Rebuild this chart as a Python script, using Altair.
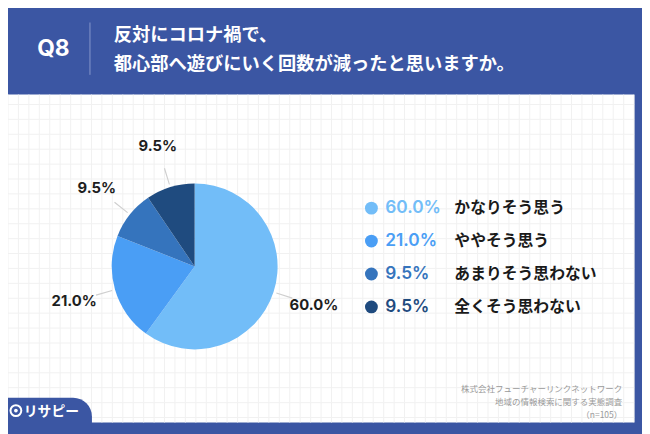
import altair as alt
import pandas as pd

# ---- data ----
labels = ["かなりそう思う", "ややそう思う", "あまりそう思わない", "全くそう思わない"]
values = [60.0, 21.0, 9.5, 9.5]
colors = ["#72bdf8", "#4a9ef5", "#3574bd", "#1f4b7f"]
question = "Q8"
title_lines = ["反対にコロナ禍で、", "都心部へ遊びにいく回数が減ったと思いますか。"]
source_lines = ["株式会社フューチャーリンクネットワーク", "地域の情報検索に関する実態調査", "（n=105）"]
brand = "リサピー"

BLUE = "#3b56a3"
JP = "Noto Sans CJK JP"
LAT = "Inter"
W, H = 642, 426
CX, CY = 189, 259  # pie centre

df = pd.DataFrame({"label": labels, "value": values, "idx": list(range(len(labels)))})
one = pd.DataFrame({"k": [0]})

base = alt.Chart(df).transform_calculate(pct="format(datum.value, '.1f') + '%'")
color = alt.Color("label:N", scale=alt.Scale(domain=labels, range=colors), legend=None)

# ---- card and grid ----
card = alt.Chart(one).mark_rect(color="white").encode(
    x=alt.value(0), x2=alt.value(634), y=alt.value(85), y2=alt.value(417))

vgrid = alt.Chart(alt.sequence(0, 61, as_="i")).mark_rule(color="#f1f1f1", strokeWidth=1).encode(
    x=alt.X("i:Q", scale=alt.Scale(domain=[0, 60], range=[0, 634]), axis=None),
    y=alt.value(85), y2=alt.value(417))

hgrid = alt.Chart(alt.sequence(0, 22, as_="j")).mark_rule(color="#f1f1f1", strokeWidth=1).encode(
    y=alt.Y("j:Q", scale=alt.Scale(domain=[0, 21], range=[95, 412]), axis=None),
    x=alt.value(0), x2=alt.value(634))

# ---- pie ----
pie = base.mark_arc(outerRadius=84).encode(
    theta=alt.Theta("value:Q", stack=True),
    color=color,
    order=alt.Order("idx:Q", sort="ascending"),
    x=alt.value(CX), y=alt.value(CY))

plabels = base.mark_text(radius=127, font=LAT, fontSize=15, fontWeight="bold", color="#1e1e1e").encode(
    theta=alt.Theta("value:Q", stack=True),
    order=alt.Order("idx:Q", sort="ascending"),
    text="pct:N",
    x=alt.value(CX), y=alt.value(CY))

leaders = base.transform_window(
    cum="sum(value)", sort=[alt.SortField("idx")], frame=[None, 0]
).transform_joinaggregate(total="sum(value)").transform_calculate(
    mid="2*PI*(datum.cum - datum.value/2)/datum.total"
).transform_calculate(t0="datum.mid - 0.006", t1="datum.mid + 0.006").mark_arc(
    innerRadius=87, outerRadius=104, color="#cfcfcf"
).encode(theta=alt.Theta("t0:Q", scale=None), theta2="t1:Q", x=alt.value(CX), y=alt.value(CY))

# ---- legend ----
ly = alt.Y("label:N", scale=alt.Scale(type="point", domain=labels, range=[200, 300], padding=0), axis=None)
ldots = base.mark_circle(size=169, opacity=1).encode(x=alt.value(368), y=ly, color=color)
lpct = base.mark_text(align="left", baseline="middle", font=LAT, fontSize=17.5, fontWeight=600).encode(
    x=alt.value(382), y=ly, text="pct:N", color=color)
llab = base.mark_text(align="left", baseline="middle", font=JP, fontSize=16, fontWeight="bold",
                      color="#1a1a1a").encode(x=alt.value(452), y=ly, text="label:N")

# ---- header ----
qtext = alt.Chart(one).mark_text(font=LAT, fontSize=23, fontWeight="bold", color="white",
                                 align="center", baseline="middle").encode(
    x=alt.value(46), y=alt.value(39), text=alt.value(question))
divider = alt.Chart(one).mark_rule(color="#8797cc", strokeWidth=1).encode(
    x=alt.value(83), y=alt.value(12), y2=alt.value(65))
t1 = alt.Chart(one).mark_text(font=JP, fontSize=18.5, fontWeight="bold", color="white",
                              align="left", baseline="middle").encode(
    x=alt.value(107), y=alt.value(25), text=alt.value(title_lines[0]))
t2 = alt.Chart(one).mark_text(font=JP, fontSize=18.5, fontWeight="bold", color="white",
                              align="left", baseline="middle").encode(
    x=alt.value(107), y=alt.value(54), text=alt.value(title_lines[1]))

# ---- source ----
src = [alt.Chart(one).mark_text(font=JP, fontSize=8.6, color="#9a9a9a", align="right",
                                baseline="middle").encode(
    x=alt.value(622), y=alt.value(383 + 13 * k), text=alt.value(s)) for k, s in enumerate(source_lines)]

# ---- brand tab ----
tab = alt.Chart(one).mark_rect(color=BLUE, cornerRadiusTopRight=20).encode(
    x=alt.value(0), x2=alt.value(85), y=alt.value(392), y2=alt.value(430))
ring = alt.Chart(one).mark_point(shape="circle", size=120, filled=False, stroke="white",
                                 strokeWidth=2, opacity=1).encode(x=alt.value(8), y=alt.value(405))
dot = alt.Chart(one).mark_circle(size=14, color="white", opacity=1).encode(x=alt.value(8), y=alt.value(405))
btxt = alt.Chart(one).mark_text(font=JP, fontSize=14, fontWeight="bold", color="white",
                                align="left", baseline="middle").encode(
    x=alt.value(16), y=alt.value(406), text=alt.value(brand))

chart = alt.layer(
    card, vgrid, hgrid, leaders, pie, plabels, ldots, lpct, llab,
    qtext, divider, t1, t2, *src, tab, ring, dot, btxt
).resolve_scale(
    x="independent", y="independent", theta="independent"
).properties(
    width=W, height=H, padding=0, autosize="none", background=BLUE
).configure_view(stroke=None)

chart.save("out.html", embed_options={"renderer": "svg", "actions": False})
